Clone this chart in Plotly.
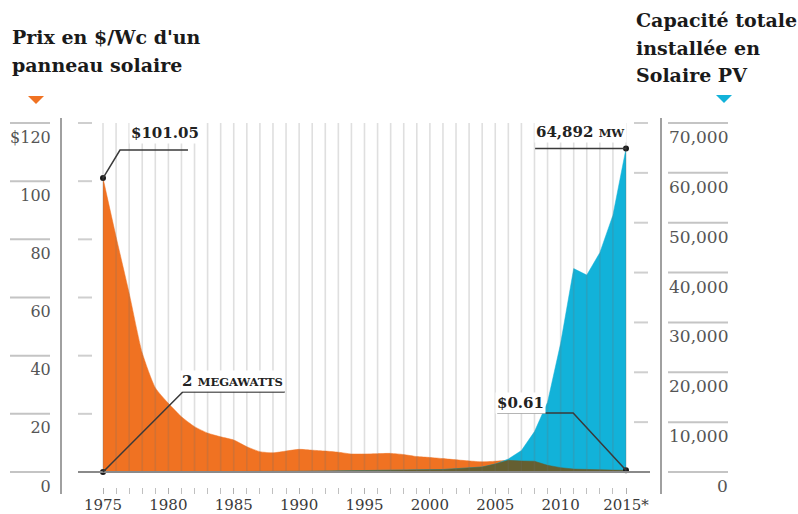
import plotly.graph_objects as go

# ---------------- data ----------------
years = list(range(1975, 2016))
price = [101.05, 80.9, 61.5, 41.0, 29.0, 23.6, 19.0, 15.6, 13.4, 12.1,
         11.0, 8.7, 7.0, 6.6, 7.2, 7.8, 7.5, 7.2, 6.8, 6.2,
         6.2, 6.3, 6.4, 6.0, 5.3, 5.0, 4.6, 4.2, 3.8, 3.5,
         3.7, 4.0, 3.8, 3.7, 2.3, 1.5, 1.0, 0.8, 0.7, 0.65, 0.61]
capacity = [2, 3, 4, 6, 8, 10, 14, 20, 28, 38,
            50, 65, 80, 100, 120, 140, 160, 180, 200, 230,
            260, 290, 320, 350, 380, 420, 500, 670, 850, 1000,
            1600, 2600, 4300, 8100, 14000, 25800, 40800, 39500, 44000, 51500, 64892]
x_tick_years = [1975, 1980, 1985, 1990, 1995, 2000, 2005, 2010, 2015]
x_tick_text = ["1975", "1980", "1985", "1990", "1995", "2000", "2005", "2010", "2015*"]
price_ticks = [0, 20, 40, 60, 80, 100, 120]
price_tick_text = ["0", "20", "40", "60", "80", "100", "$120"]
cap_ticks = [0, 10000, 20000, 30000, 40000, 50000, 60000, 70000]
cap_tick_text = ["0", "10,000", "20,000", "30,000", "40,000", "50,000", "60,000", "70,000"]

# ---------------- layout constants ----------------
W, H = 798, 514
ORANGE = "#F07222"
BLUE = "#12B2D9"
OLIVE = "#655f31"
PRICE_TOP = 120
CAP_TOP = 70000
SCALE = CAP_TOP / PRICE_TOP

# pixel geometry
X_LEFT, X_RIGHT = 62, 660
X_1975, X_2015 = 103, 626
Y_TOP, Y_BOT = 118, 494
Y_ZERO, Y_MAX = 472, 123

ppy = (X_2015 - X_1975) / 40.0
xr0 = 1975 - (X_1975 - X_LEFT) / ppy
xr1 = xr0 + (X_RIGHT - X_LEFT) / ppy
ppu = (Y_ZERO - Y_MAX) / PRICE_TOP
ppm = (Y_ZERO - Y_MAX) / CAP_TOP
yr = [-(Y_BOT - Y_ZERO) / ppu, (Y_ZERO - Y_TOP) / ppu]
y2r = [-(Y_BOT - Y_ZERO) / ppm, (Y_ZERO - Y_TOP) / ppm]


def px(x):
    return x / W


def py(y):
    return 1 - y / H


overlap = [min(p * SCALE, c) for p, c in zip(price, capacity)]

fig = go.Figure()
fig.add_trace(go.Scatter(x=years, y=price, mode="lines", fill="tozeroy",
                         fillcolor=ORANGE, line=dict(color=ORANGE, width=0.5, shape="spline", smoothing=0.6),
                         yaxis="y", hoverinfo="skip"))
fig.add_trace(go.Scatter(x=years, y=capacity, mode="lines", fill="tozeroy",
                         fillcolor=BLUE, line=dict(color=BLUE, width=0.5),
                         yaxis="y2", hoverinfo="skip"))
fig.add_trace(go.Scatter(x=years, y=overlap, mode="lines", fill="tozeroy",
                         fillcolor=OLIVE, line=dict(color=OLIVE, width=0.5),
                         yaxis="y2", hoverinfo="skip"))
# endpoint dots
fig.add_trace(go.Scatter(x=[years[0], years[0], years[-1], years[-1]],
                         y=[price[0] * SCALE, capacity[0], price[-1] * SCALE, capacity[-1]],
                         mode="markers", marker=dict(color="#1a1a1a", size=6),
                         yaxis="y2", hoverinfo="skip"))

shapes = []
# vertical year gridlines
for yv in years:
    shapes.append(dict(type="line", xref="x", yref="y", x0=yv, x1=yv, y0=0, y1=PRICE_TOP,
                       line=dict(color="rgba(110,110,110,0.22)", width=1.6), layer="above"))
# baseline
shapes.append(dict(type="line", xref="paper", yref="y", x0=px(78), x1=px(650), y0=0, y1=0,
                   line=dict(color="#8a8a8a", width=2), layer="above"))
# left tick decorations
for v in price_ticks:
    shapes.append(dict(type="line", xref="paper", yref="y", x0=px(10), x1=px(50), y0=v, y1=v,
                       line=dict(color="#c4c4c4", width=2)))
    if v > 0:
        shapes.append(dict(type="line", xref="paper", yref="y", x0=px(78), x1=px(92), y0=v, y1=v,
                           line=dict(color="#cfcfcf", width=2)))
# right tick decorations
for v in cap_ticks:
    shapes.append(dict(type="line", xref="paper", yref="y2", x0=px(668), x1=px(728), y0=v, y1=v,
                       line=dict(color="#c4c4c4", width=2)))
    if v > 0:
        shapes.append(dict(type="line", xref="paper", yref="y2", x0=px(634), x1=px(648), y0=v, y1=v,
                           line=dict(color="#cfcfcf", width=2)))

LEAD = dict(color="#3a3a3a", width=1.5)
# leader lines
shapes.append(dict(type="path", xref="x", yref="y",
                   path=f"M {years[0]},{price[0]} L 1976.3,110.7 L 1981.5,110.7",
                   line=LEAD, layer="above"))
shapes.append(dict(type="path", xref="x", yref="y",
                   path=f"M {years[0]},0 L 1981.1,27.5 L 1988.9,27.5",
                   line=LEAD, layer="above"))
shapes.append(dict(type="path", xref="x", yref="y",
                   path=f"M {years[-1]},{price[-1]} L 2010.96,20.3 L 2005.15,20.3",
                   line=LEAD, layer="above"))
shapes.append(dict(type="path", xref="x", yref="y2",
                   path=f"M {years[-1]},{capacity[-1]} L 2008.05,{capacity[-1]}",
                   line=LEAD, layer="above"))
# header triangles
shapes.append(dict(type="path", xref="paper", yref="paper",
                   path=f"M {px(28)},{py(96)} L {px(44)},{py(96)} L {px(36)},{py(104)} Z",
                   fillcolor=ORANGE, line=dict(width=0)))
shapes.append(dict(type="path", xref="paper", yref="paper",
                   path=f"M {px(716)},{py(95)} L {px(732)},{py(95)} L {px(724)},{py(103)} Z",
                   fillcolor=BLUE, line=dict(width=0)))

ann = []
TITLE_FONT = dict(family="DejaVu Serif", size=19, color="#1a1a1a")
for txt, y in [("<b>Prix en $/Wc d'un</b>", 37), ("<b>panneau solaire</b>", 65)]:
    ann.append(dict(text=txt, xref="paper", yref="paper", x=px(10), y=py(y),
                    xanchor="left", yanchor="middle", showarrow=False, font=TITLE_FONT))
for txt, y in [("<b>Capacité totale</b>", 20), ("<b>installée en</b>", 48), ("<b>Solaire PV</b>", 75)]:
    ann.append(dict(text=txt, xref="paper", yref="paper", x=px(634), y=py(y),
                    xanchor="left", yanchor="middle", showarrow=False, font=TITLE_FONT))

# right axis labels
for v, t in zip(cap_ticks, cap_tick_text):
    ann.append(dict(text=t, xref="paper", yref="y2", x=px(730), y=v, yshift=-14,
                    xanchor="right", yanchor="middle", showarrow=False,
                    font=dict(family="DejaVu Serif", size=17, color="#555555")))

LBL = dict(family="DejaVu Serif", size=15, color="#222222")
ann.append(dict(text="<b>$101.05</b>", xref="x", yref="y", x=1977.0, y=116.6,
                xanchor="left", yanchor="middle", showarrow=False, font=LBL, bgcolor="white"))
ann.append(dict(text="<b>2 <span style='font-size:11.5px'>MEGAWATTS</span></b>", xref="x", yref="y",
                x=1980.9, y=31.3, xanchor="left", yanchor="middle", showarrow=False, font=LBL,
                bgcolor="white"))
ann.append(dict(text="<b>$0.61</b>", xref="x", yref="y", x=2004.95, y=23.6,
                xanchor="left", yanchor="middle", showarrow=False, font=LBL, bgcolor="white"))
ann.append(dict(text="<b>64,892 <span style='font-size:11.5px'>MW</span></b>", xref="x", yref="y2",
                x=2008.0, y=68200, xanchor="left", yanchor="middle", showarrow=False, font=LBL,
                bgcolor="white"))

fig.update_layout(
    width=W, height=H, margin=dict(l=0, r=0, t=0, b=0, autoexpand=False),
    paper_bgcolor="white", plot_bgcolor="white", showlegend=False,
    xaxis=dict(domain=[px(X_LEFT), px(X_RIGHT)], range=[xr0, xr1], anchor="y", automargin=False,
               showgrid=False, zeroline=False, showline=False,
               tickmode="array", tickvals=x_tick_years, ticktext=x_tick_text,
               ticks="inside", ticklen=6, tickwidth=1, tickcolor="#b0b0b0",
               minor=dict(tickmode="array", tickvals=years, ticks="inside", ticklen=6,
                          tickwidth=1, tickcolor="#c0c0c0"),
               tickfont=dict(family="DejaVu Serif", size=15, color="#3a3a3a")),
    yaxis=dict(domain=[py(Y_BOT), py(Y_TOP)], range=yr, anchor="x", automargin=False,
               showgrid=False, zeroline=False, showline=True, linecolor="#a0a0a0", linewidth=2,
               tickmode="array", tickvals=price_ticks, ticktext=price_tick_text, ticks="",
               ticklabelshift=14, ticklabelstandoff=6,
               tickfont=dict(family="DejaVu Serif", size=16, color="#555555")),
    yaxis2=dict(domain=[py(Y_BOT), py(Y_TOP)], range=y2r, overlaying="y", side="right",
                anchor="x", automargin=False, showgrid=False, zeroline=False, showline=True,
                linecolor="#a0a0a0", linewidth=2, showticklabels=False, ticks=""),
    shapes=shapes, annotations=ann,
)

fig.write_html("out.html")
